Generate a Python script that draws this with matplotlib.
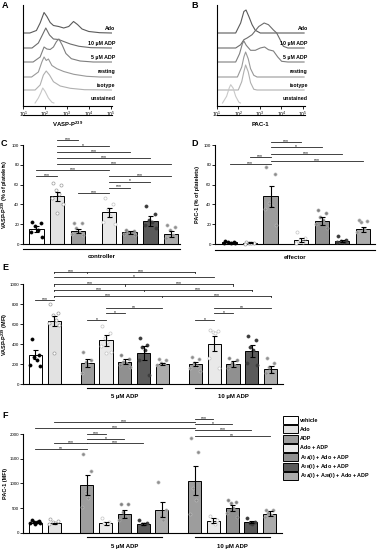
import matplotlib
matplotlib.use("Agg")
import matplotlib.pyplot as plt
from matplotlib.patches import Rectangle
from matplotlib.transforms import blended_transform_factory

plt.rcParams.update({
    "font.family": ["Liberation Sans", "DejaVu Sans"],
    "mathtext.default": "regular",
    "axes.linewidth": 0.8,
    "axes.spines.top": False,
    "axes.spines.right": False,
})

# ---- flow histograms: (log10 fluorescence, height) ----
A_ADO = [(1.0, 0), (1.3, 0), (1.6, 2.5), (1.77, 10), (1.95, 20.5), (2.08, 16.5),
         (2.23, 10.5), (2.38, 7.5), (2.62, 6.5), (2.85, 5), (3.08, 6.5), (3.3, 11.5),
         (3.48, 8.5), (3.69, 4), (4.0, 1.5), (4.5, 0.3), (5.05, 0)]
A_ADP10 = [(1.0, 0), (1.4, 0), (1.69, 5), (1.85, 12), (2.03, 20), (2.2, 13),
           (2.38, 9), (2.62, 8.5), (2.85, 6.5), (3.15, 4), (3.55, 1.7), (4.1, 0.3),
           (5.05, 0)]
A_ADP5 = [(1.0, 0), (1.45, 0), (1.77, 5), (1.95, 15), (2.08, 13), (2.23, 12.5),
          (2.38, 15), (2.52, 20.5), (2.63, 23), (2.78, 17), (2.95, 8.5), (3.2, 3.3),
          (3.6, 1), (4.2, 0), (5.05, 0)]
A_REST = [(1.0, 0), (1.38, 0), (1.69, 5), (1.85, 15), (1.95, 20), (2.05, 16.5),
          (2.15, 18), (2.31, 11.5), (2.54, 8.3), (2.85, 5.5), (3.31, 2.7), (3.9, 0.7),
          (4.5, 0), (5.05, 0)]
A_ISO = [(1.0, 0), (1.54, 0), (1.77, 5), (1.92, 15), (2.05, 19), (2.2, 15),
         (2.38, 8.3), (2.69, 4), (3.15, 1.7), (3.8, 0.3), (5.05, 0)]
A_UNST = [(1.54, 0), (1.69, 5), (1.8, 10), (1.89, 15), (2.0, 11.5), (2.15, 5),
          (2.31, 0.7), (2.4, 0)]

B_ADO = [(1.0, 0), (1.88, 0), (2.11, 10), (2.26, 21.5), (2.36, 23), (2.49, 16.5),
         (2.64, 8.3), (2.79, 2.7), (3.02, 0), (5.05, 0)]
B_ADP10 = [(1.0, 0), (1.88, 0), (2.11, 3.3), (2.26, 8.3), (2.41, 10), (2.64, 13.3),
           (2.95, 21.5), (3.2, 25), (3.4, 23.3), (3.63, 18), (3.78, 15), (3.94, 8.3),
           (4.09, 1.7), (4.3, 0), (5.05, 0)]
B_ADP5 = [(1.0, 0), (1.88, 0), (2.06, 8.3), (2.19, 18.3), (2.26, 21), (2.37, 16.7),
          (2.57, 11.7), (2.79, 11.7), (3.02, 14), (3.22, 15), (3.4, 12.3), (3.63, 11),
          (3.83, 5), (4.01, 0.7), (4.3, 0), (5.05, 0)]
B_REST = [(1.0, 0), (1.96, 0), (2.16, 10), (2.26, 20), (2.34, 25), (2.46, 18.3),
          (2.57, 8.3), (2.72, 1.7), (2.87, 0), (5.05, 0)]
B_ISO = [(1.0, 0), (2.0, 0), (2.16, 8.3), (2.26, 18.3), (2.34, 25), (2.46, 18.3),
         (2.57, 7.3), (2.72, 0.7), (2.87, 0), (5.05, 0)]
B_UNST = [(1.27, 0), (1.46, 6.7), (1.58, 15), (1.65, 18.3), (1.76, 15), (1.88, 6.7),
          (2.03, 0.7), (2.1, 0)]

HIST_LABELS = ["Ado", "10 µM ADP", "5 µM ADP", "resting", "isotype", "unstained"]
DECADES = [1, 2, 3, 4, 5]

# ---- bar panels ----
CATS_CD = ["veh", "ado", "adp", "adoadp", "a2a", "a2b", "both"]
CATS_EF = ["veh", "ado"] + ["adp", "adoadp", "a2a", "a2b", "both"] * 2

C_MEAN = [15, 48, 13, 32, 12, 23, 10]
C_SEM = [3, 4.5, 2, 4.5, 1.5, 5, 3]
C_DOTS = [[22, 21, 18, 14, 12, 7], [62, 60, 55, 51, 46, 40, 31],
          [21, 21, 16, 12, 10, 9], [46, 40, 35, 28, 22, 20],
          [14, 13, 12, 11, 10, 9], [38, 30, 24, 22, 19, 16], [19, 17, 14, 9, 6]]

D_MEAN = [2, 1.5, 48, 4, 23, 3, 15]
D_SEM = [0.5, 0.5, 11, 2, 4, 1, 2.5]
D_DOTS = [[3, 2.5, 2, 1.5, 1, 1], [2, 1.5, 1, 1, 0.5], [78, 71, 41, 38, 35, 19],
          [12, 6, 4, 2, 1], [34, 31, 27, 24, 20, 16], [8, 4, 3, 2, 2],
          [24, 23, 22, 15, 12]]

E_MEAN = [293, 630, 209, 438, 222, 310, 202, 202, 404, 202, 333, 148]
E_SEM = [45, 50, 40, 55, 25, 72, 13, 22, 75, 27, 58, 37]
E_DOTS = [[450, 290, 270, 240, 190, 180], [805, 715, 690, 645, 610, 590, 315],
          [325, 240, 225, 190, 110], [585, 510, 460, 420, 385, 325, 310],
          [290, 250, 225, 210, 190, 175], [460, 395, 375, 345, 240, 90],
          [250, 240, 215, 200, 190], [275, 250, 215, 180, 160, 135],
          [540, 530, 520, 510, 260, 160], [265, 245, 215, 195, 160],
          [485, 440, 375, 345, 210, 190], [260, 210, 170, 125, 110]]

F_MEAN = [205, 190, 960, 190, 380, 180, 470, 1055, 245, 505, 215, 380]
F_SEM = [15, 15, 200, 25, 90, 20, 150, 300, 50, 65, 25, 50]
F_DOTS = [[250, 235, 220, 210, 200, 190, 180], [270, 235, 210, 190, 175],
          [1590, 1255, 830, 700, 515], [290, 225, 190, 170],
          [580, 575, 425, 325, 255], [255, 205, 175, 170],
          [1025, 460, 345, 255], [1910, 1630, 900, 660, 380],
          [345, 255, 225, 170], [660, 630, 595, 495, 390, 325],
          [290, 225, 190, 170], [470, 460, 405, 360, 325]]

# significance: (y level, bar indices along the line, labels per segment)
C_SIG = [(105, (1, 2), ("***",)), (99, (1, 3), ("*",)), (93, (1, 4), ("***",)),
         (87, (1, 5), ("***",)), (81, (1, 6), ("***",)), (75, (0, 3), ("***",)),
         (69, (0, 1), ("***",)), (69, (3, 6), ("***",)), (63, (3, 5), ("*",)),
         (57, (3, 4), ("***",)), (51.5, (2, 3), ("***",))]
D_SIG = [(103.3, (2, 3), ("***",)), (97.7, (2, 4), ("*",)), (90.9, (2, 5), ("***",)),
         (88.2, (1, 2), ("***",)), (84.1, (2, 6), ("***",)), (80.8, (0, 2), ("***",))]
E_SIG = [(1124, (1, 2, 7), ("***", "***")), (1068, (1, 8), ("*",)),
         (1000, (1, 4, 9), ("***", "***")), (942, (1, 5, 10), ("***", "***")),
         (882, (1, 6, 11), ("***", "***")), (841, (0, 1), ("***",)),
         (758, (3, 6), ("**",)), (758, (8, 11), ("**",)),
         (707, (3, 4), ("*",)), (707, (8, 9), ("*",)),
         (639, (2, 3), ("*",)), (639, (7, 8), ("*",))]
F_SIG = [(2298, (7, 8), ("***",)), (2249, (1, 7), ("***",)), (2197, (7, 9), ("*",)),
         (2115, (0, 7), ("***",)), (2081, (7, 10), ("***",)), (1994, (2, 3), ("***",)),
         (1959, (7, 11), ("**",)), (1893, (2, 4), ("*",)), (1812, (1, 2), ("***",)),
         (1812, (2, 5), ("***",)), (1696, (0, 2), ("**",))]

LEGEND_CATS = ["veh", "ado", "adp", "adoadp", "a2a", "a2b", "both"]
LEGEND_LABELS = ["vehicle", "Ado", "ADP", "Ado + ADP", r"A$_{2A}$(i) + Ado + ADP",
                 r"A$_{2B}$(i) + Ado + ADP", r"A$_{2A}$(i) + A$_{2B}$(i) + Ado + ADP"]

BAR_COL = {"veh": "white", "ado": "#e2e2e2", "adp": "#9d9d9d", "adoadp": "#e9e9e9",
           "a2a": "#909090", "a2b": "#5a5a5a", "both": "#ababab"}
DOT_FACE = {"veh": "black", "ado": "white", "adp": "#8a8a8a", "adoadp": "white",
            "a2a": "#7e7e7e", "a2b": "#3c3c3c", "both": "#8f8f8f"}
DOT_EDGE = {"veh": "black", "ado": "#9a9a9a", "adp": "#b8b8b8", "adoadp": "#c4c4c4",
            "a2a": "#a8a8a8", "a2b": "#3c3c3c", "both": "#b3b3b3"}
HIST_COL = ["#5a5a5a", "#6c6c6c", "#7e7e7e", "#999999", "#b0b0b0", "#c8c8c8"]
OFFS = [-0.2, 0.2, -0.07, 0.07, -0.27, 0.27, 0.0]

W, H = 380, 550
fig = plt.figure(figsize=(3.8, 5.5), dpi=100)


def add_ax(x0, y0, x1, y1):
    return fig.add_axes([x0 / W, 1 - y1 / H, (x1 - x0) / W, (y1 - y0) / H])


def ftext(x, y, s, **kw):
    fig.text(x / W, 1 - y / H, s, **kw)


def hist_panel(ax, curves, xlabel):
    bases = [73, 58, 44, 29, 16, 3]
    for pts, base, col, lab in zip(curves, bases, HIST_COL, HIST_LABELS):
        ax.plot([p[0] for p in pts], [base + p[1] for p in pts], color=col, lw=0.8)
        ax.text(5.22, base + 2.5, lab, ha="right", va="bottom", fontsize=3.8,
                fontweight="bold", clip_on=False)
    ax.set_xlim(1, 5.07)
    ax.set_ylim(0, 101)
    ax.set_yticks([])
    ax.set_xticks(DECADES)
    ax.set_xticklabels([rf"$10^{d}$" for d in DECADES])
    ax.tick_params(axis="x", length=2, width=0.6, labelsize=3.6, pad=1)
    ax.plot([0, 1], [-0.093, -0.093], transform=ax.transAxes, color="k", lw=0.8,
            clip_on=False)
    ax.text(0.5, -0.18, xlabel, transform=ax.transAxes, ha="center", va="center",
            fontsize=4.3, fontweight="bold")


def bar_panel(ax, pos, cats, means, sems, dots, sig, tick_h, ymax, yticks, ylabel,
              label_x):
    for i, c in enumerate(cats):
        ax.bar(pos[i], means[i], width=0.7, color=BAR_COL[c], edgecolor="black",
               lw=0.7, zorder=2)
        vals = dots[i]
        ax.scatter([pos[i] + OFFS[k % len(OFFS)] for k in range(len(vals))], vals,
                   s=5, facecolor=DOT_FACE[c], edgecolor=DOT_EDGE[c], lw=0.5,
                   zorder=3, clip_on=False)
    ax.errorbar(pos, means, yerr=sems, fmt="none", ecolor="black", elinewidth=0.8,
                capsize=1.8, capthick=0.8, zorder=4)
    for y, idx, labs in sig:
        xs = [pos[i] for i in idx]
        ax.plot([xs[0], xs[-1]], [y, y], color="#222222", lw=0.6, clip_on=False)
        if len(xs) > 2:
            for x in xs:
                ax.plot([x, x], [y, y - tick_h], color="#222222", lw=0.6,
                        clip_on=False)
        for k, lab in enumerate(labs):
            ax.annotate(lab, ((xs[k] + xs[k + 1]) / 2, y), xytext=(0, -0.6),
                        textcoords="offset points", ha="center", va="baseline",
                        fontsize=3.6, annotation_clip=False)
    ax.set_ylim(0, ymax)
    ax.spines["left"].set_bounds(0, yticks[-1])
    ax.set_yticks(yticks)
    ax.set_xticks([])
    ax.tick_params(axis="y", length=2, width=0.6, labelsize=3.2, pad=0.8)
    ax.set_ylabel(ylabel, fontsize=4.0, fontweight="bold")
    ax.yaxis.set_label_coords(label_x, yticks[-1] / 2 / ymax)


def under_line(ax, x0, x1, y_line, y_text, text, axes_x=False):
    tr = ax.transAxes if axes_x else blended_transform_factory(ax.transData, ax.transAxes)
    ax.plot([x0, x1], [y_line, y_line], transform=tr, color="k", lw=0.8, clip_on=False)
    ax.text((x0 + x1) / 2, y_text, text, transform=tr, ha="center", va="center",
            fontsize=4.3, fontweight="bold")


# A, B
axA = add_ax(23.3, 5, 112.2, 106)
hist_panel(axA, [A_ADO, A_ADP10, A_ADP5, A_REST, A_ISO, A_UNST], r"VASP-P$^{239}$")
axB = add_ax(216.7, 5, 304.5, 106)
hist_panel(axB, [B_ADO, B_ADP10, B_ADP5, B_REST, B_ISO, B_UNST], "PAC-1")

POS_CD = [0, 1, 2, 3.5, 4.5, 5.5, 6.5]
POS_EF = [0, 1, 2.75, 3.75, 4.75, 5.75, 6.75, 8.5, 9.5, 10.5, 11.5, 12.5]

axC = add_ax(23, 139.1, 180, 244)
bar_panel(axC, POS_CD, CATS_CD, C_MEAN, C_SEM, C_DOTS, C_SIG, 1.5, 106,
          [0, 20, 40, 60, 80, 100], r"VASP-P$^{239}$ (% of platelets)", -0.082)
axC.set_xlim(-0.65, 6.93)
under_line(axC, 0, 1, -0.043, -0.12, "controller", axes_x=True)

axD = add_ax(215, 139.1, 375, 244)
bar_panel(axD, POS_CD, CATS_CD, D_MEAN, D_SEM, D_DOTS, D_SIG, 1.5, 106,
          [0, 20, 40, 60, 80, 100], "PAC-1 (% of platelets)", -0.095)
axD.set_xlim(-0.71, 7.1)
under_line(axD, 0, 1, -0.057, -0.124, "effector", axes_x=True)

axE = add_ax(23, 268.2, 283, 384)
bar_panel(axE, POS_EF, CATS_EF, E_MEAN, E_SEM, E_DOTS, E_SIG, 15, 1160,
          [0, 200, 400, 600, 800, 1000], r"VASP-P$^{239}$ (MFI)", -0.05)
axE.set_xlim(-0.66, 13.16)
under_line(axE, POS_EF[2], POS_EF[6], -0.035, -0.112, "5 µM ADP")
under_line(axE, POS_EF[7], POS_EF[11], -0.035, -0.112, "10 µM ADP")

axF = add_ax(23, 414.3, 282, 532.7)
bar_panel(axF, POS_EF, CATS_EF, F_MEAN, F_SEM, F_DOTS, F_SIG, 30, 2400,
          [0, 500, 1000, 1500, 2000], "PAC-1 (MFI)", -0.056)
axF.set_xlim(-0.66, 13.16)
under_line(axF, POS_EF[2], POS_EF[6], -0.039, -0.113, "5 µM ADP")
under_line(axF, POS_EF[7], POS_EF[11], -0.039, -0.113, "10 µM ADP")

# legend for F
for k, (c, lab) in enumerate(zip(LEGEND_CATS, LEGEND_LABELS)):
    yc = 420 + k * 9.33
    fig.add_artist(Rectangle((283 / W, 1 - (yc + 4) / H), 15 / W, 8 / H,
                             transform=fig.transFigure, facecolor=BAR_COL[c],
                             edgecolor="black", lw=0.7))
    ftext(300, yc, lab, ha="left", va="center", fontsize=3.9, fontweight="bold")

for lab, x, y in [("A", 5, 6), ("B", 195, 6), ("C", 4, 143), ("D", 195, 143),
                  ("E", 5, 267), ("F", 5, 415)]:
    ftext(x, y, lab, ha="center", va="center", fontsize=6.5, fontweight="bold")

fig.savefig("out.png", dpi=100)
